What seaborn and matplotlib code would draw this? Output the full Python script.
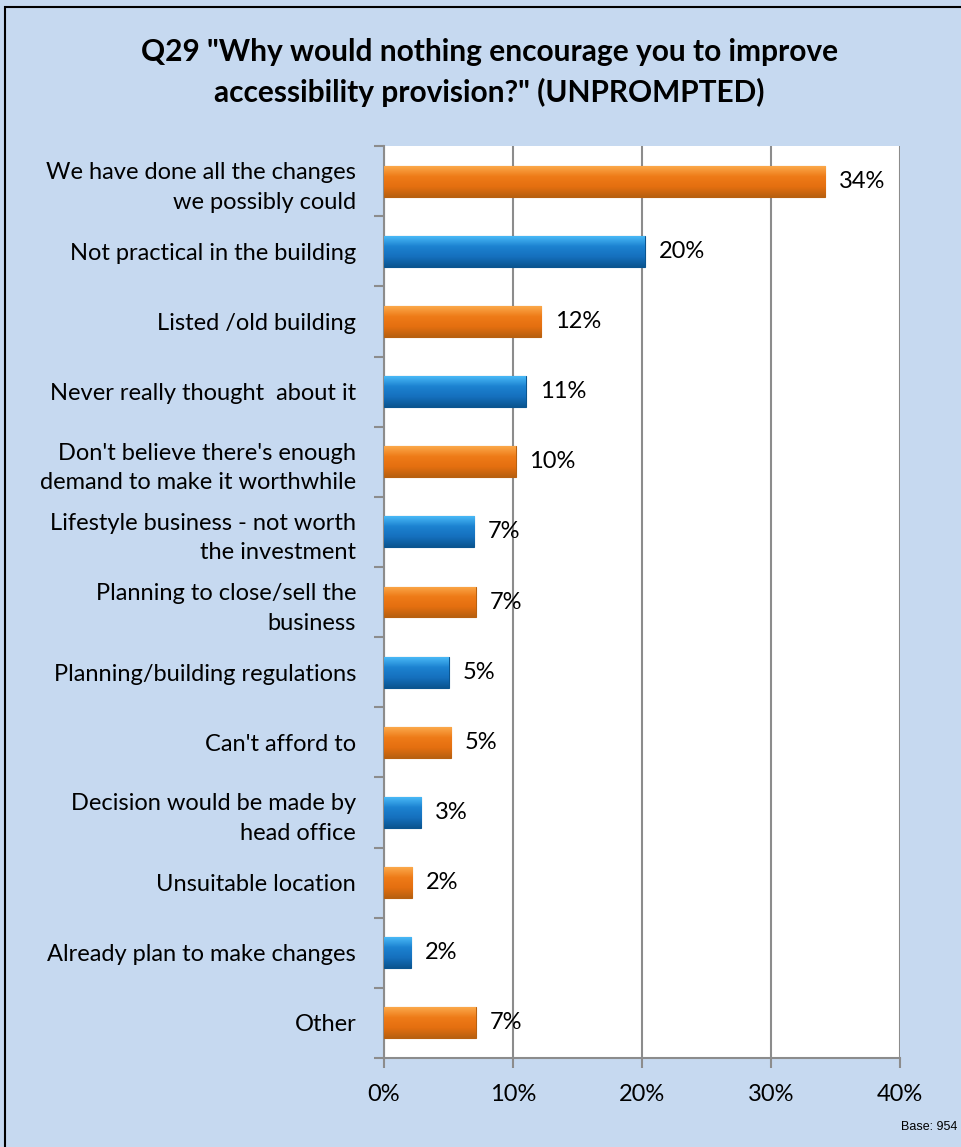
import numpy as np
import pandas as pd
import matplotlib as mpl
mpl.use("Agg")
import matplotlib.pyplot as plt
import matplotlib.colors as mcolors
import seaborn as sns

# Chart data
reasons = ["We have done all the changes\nwe possibly could",
           "Not practical in the building",
           "Listed /old building",
           "Never really thought  about it",
           "Don't believe there's enough\ndemand to make it worthwhile",
           "Lifestyle business - not worth\nthe investment",
           "Planning to close/sell the\nbusiness",
           "Planning/building regulations",
           "Can't afford to",
           "Decision would be made by\nhead office",
           "Unsuitable location",
           "Already plan to make changes",
           "Other"]
pct = [34.2, 20.2, 12.2, 11.0, 10.2, 7.0, 7.1, 5.0, 5.2, 2.9, 2.2, 2.1, 7.1]
pct_labels = ["34%", "20%", "12%", "11%", "10%", "7%", "7%", "5%", "5%", "3%", "2%", "2%", "7%"]
xticks = [0, 10, 20, 30, 40]
xtick_labels = ["0%", "10%", "20%", "30%", "40%"]

df = pd.DataFrame({"reason": reasons, "pct": pct})
df["series"] = ["o" if i % 2 == 0 else "b" for i in range(len(df))]

bg = "#C6D9F0"
grey = "#8C8C8C"
palette = {"o": "#EC7714", "b": "#1878C8"}
grads = {"o": ["#FBA84A", "#EE7B18", "#E56F10", "#B8600F"],
         "b": ["#48B8F6", "#1C82D0", "#1570BE", "#0A5590"]}

sns.set_style("white")
plt.rcParams['font.family'] = ['Lato', 'DejaVu Sans']
plt.rcParams['text.color'] = 'black'

fig = plt.figure(figsize=(9.61, 11.47), dpi=100, facecolor=bg)
ax = fig.add_axes([0.3996, 0.0776, 0.5369, 0.795])
ax.set_facecolor("white")

sns.barplot(data=df, y="reason", x="pct", hue="series", palette=palette,
            saturation=1, dodge=False, width=0.44, legend=False, ax=ax, zorder=3)

# fake the bevelled Excel look with a gradient clipped to each bar
for p in ax.patches:
    w = p.get_width()
    if w <= 0:
        continue
    y0, h = p.get_y(), p.get_height()
    idx = int(round(y0 + h / 2))
    key = df["series"].iloc[idx]
    cmap = mcolors.LinearSegmentedColormap.from_list("g", grads[key])
    grad = np.linspace(0, 1, 64).reshape(-1, 1)
    im = ax.imshow(grad, cmap=cmap, aspect="auto", zorder=4,
                   extent=[p.get_x(), p.get_x() + w, y0 + h, y0], origin="upper")
    im.set_clip_path(p)
    p.set_edgecolor(grads[key][-1])
    p.set_linewidth(0.8)

for i, (v, lab) in enumerate(zip(pct, pct_labels)):
    ax.annotate(lab, (v, i), xytext=(10, 0), textcoords="offset points",
                va="center", ha="left", fontsize=17, color="black", zorder=6)

ax.set_xlim(0, 40)
ax.set_ylim(len(df) - 0.5, -0.5)
ax.set_xticks(xticks)
ax.set_xticklabels(xtick_labels, fontsize=17, color="black")
ax.set_yticks(range(len(df)))
ax.set_yticklabels(reasons, fontsize=17, linespacing=1.5, color="black")
ax.set_yticks(np.arange(-0.5, len(df)), minor=True)
ax.tick_params(axis="y", which="major", left=False, length=0, pad=20)
ax.tick_params(axis="y", which="minor", left=True, length=7, width=1.5, color=grey, direction="out")
ax.tick_params(axis="x", bottom=True, length=7, width=1.5, color=grey, direction="out", pad=12)
ax.xaxis.grid(True, color=grey, linewidth=1.5, zorder=0)
ax.set_axisbelow(True)
ax.set_xlabel("")
ax.set_ylabel("")
for s in ["top", "right"]:
    ax.spines[s].set_visible(False)
for s in ["left", "bottom"]:
    ax.spines[s].set_color(grey)
    ax.spines[s].set_linewidth(1.5)

fig.text(0.509, 0.937, 'Q29 "Why would nothing encourage you to improve\naccessibility provision?" (UNPROMPTED)',
         ha="center", va="center", fontsize=21.5, fontweight="bold", linespacing=1.5, color="black")
fig.text(0.996, 0.012, "Base: 954", ha="right", va="bottom", fontsize=9,
         family=["Liberation Sans", "DejaVu Sans"])

# outer chart border (runs off the right and bottom edge)
fig.patches.append(plt.Rectangle((5 / 961, -0.1), 1.2, 1.1 - 7 / 1147, transform=fig.transFigure,
                                 fill=False, edgecolor="black", linewidth=1.5))

fig.savefig("out.png", dpi=100, facecolor=bg)
